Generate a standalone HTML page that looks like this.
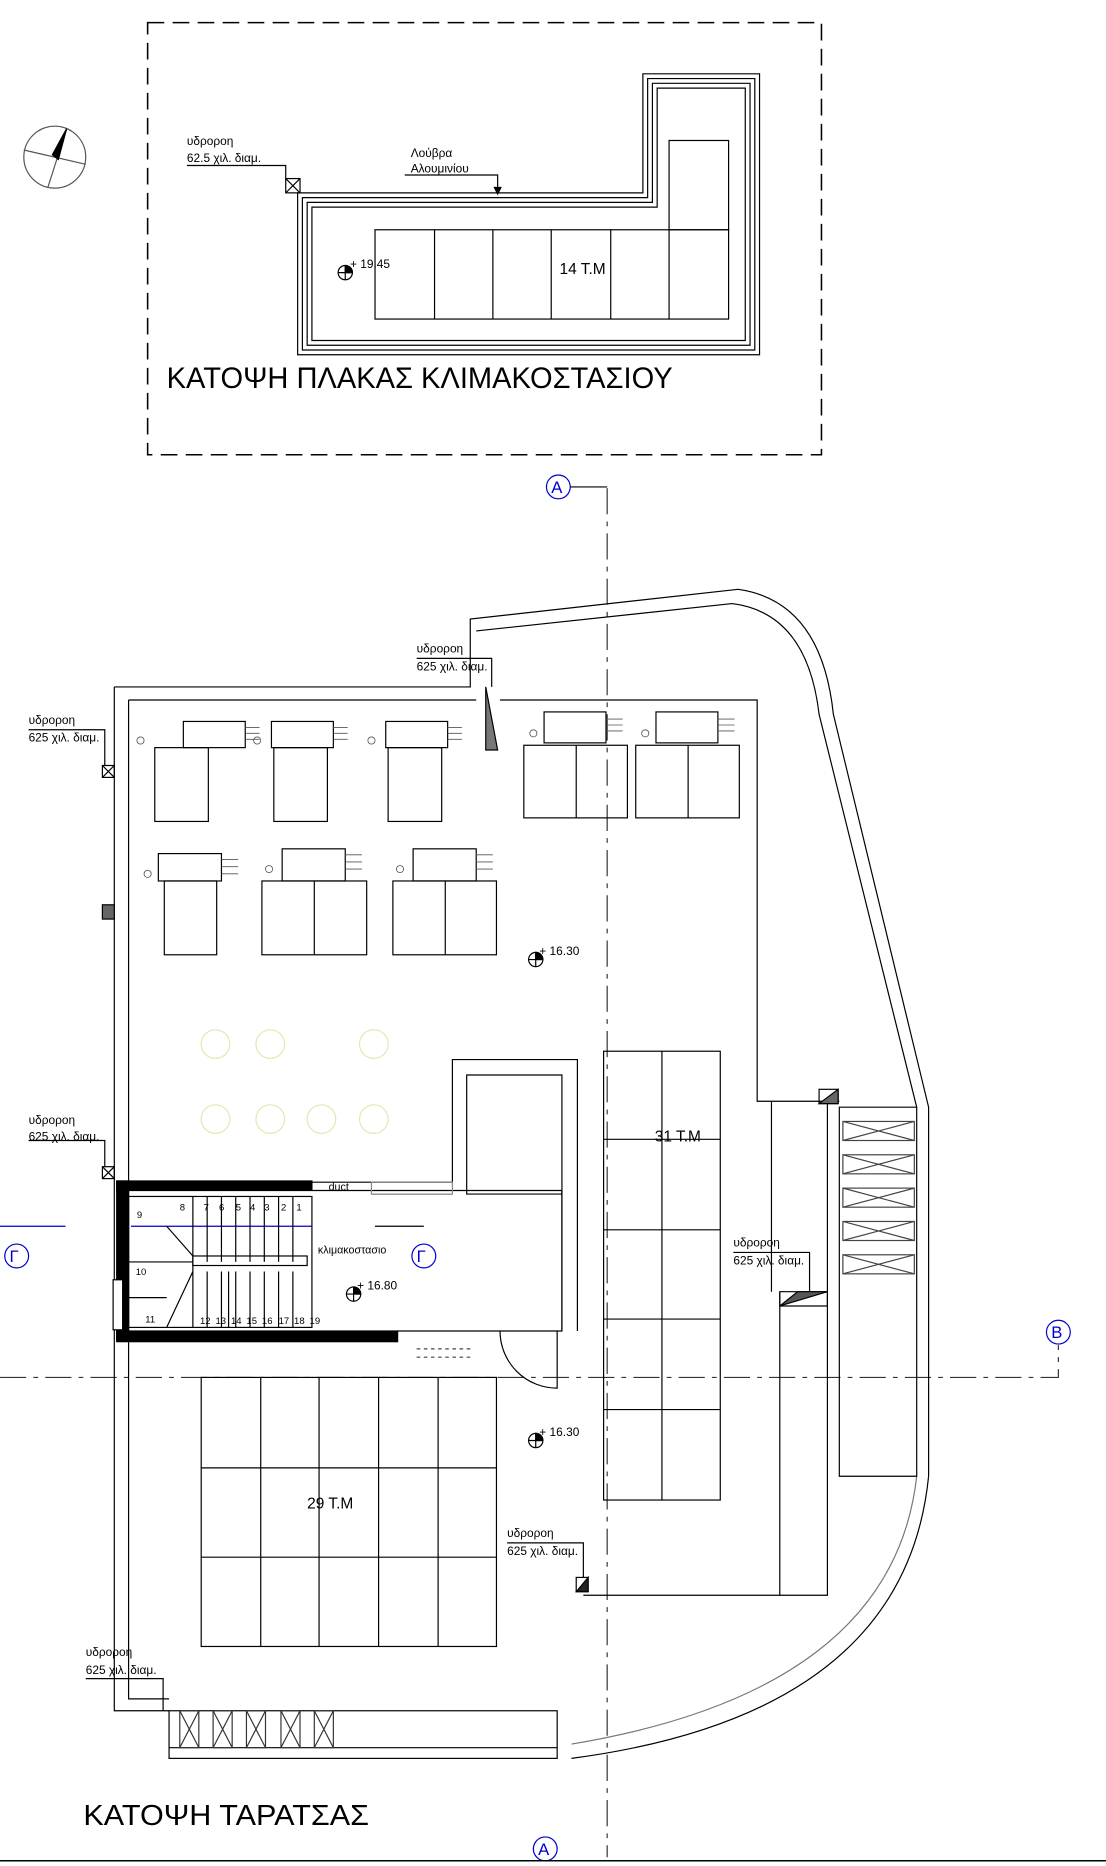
<!DOCTYPE html>
<html><head><meta charset="utf-8"><style>
html,body{margin:0;padding:0;background:#fff}
svg{display:block}
text{font-family:"Liberation Sans",sans-serif;fill:#000}
</style></head><body>
<svg width="1106" height="1866" viewBox="0 0 929 1567.4" xmlns="http://www.w3.org/2000/svg">
<g fill="none" stroke="#000" stroke-width="1">
<rect x="124" y="19" width="566" height="363" stroke-dasharray="14,7" stroke-width="1.3"/>
<circle cx="46" cy="132" r="26" stroke="#555"/>
<path d="M56,108 L40,158 M20,126 L72,138" stroke="#555"/>
<path d="M56,108 L49,134 L44,130 Z" fill="#000"/>
<path d="M250,162 H540 V62 H638 V298 H250 Z"/>
<path d="M254,166 H544 V66 H634 V294 H254 Z"/>
<path d="M258,170 H548 V70 H630 V290 H258 Z"/>
<path d="M262,174 H552 V74 H626 V286 H262 Z"/>
<rect x="315" y="193" width="297" height="75"/>
<path d="M365,193V268M414,193V268M463,193V268M513,193V268M562,193V268"/>
<rect x="562" y="118" width="50" height="75"/>
<rect x="240" y="150" width="12" height="12"/><path d="M240,150l12,12M252,150l-12,12"/>
<path d="M157,139H240V150"/>
<path d="M340,147H418V163"/><path d="M415,157l3,6l3,-6" fill="#000"/>
<circle cx="290" cy="229" r="6"/><path d="M290,223v12M284,229h12"/>
<path d="M510,410V1560" stroke-dasharray="22,6,4,6" stroke="#333"/>
<path d="M479,409H510"/>
<path d="M0,1157H889V1130" stroke-dasharray="22,6,4,6" stroke="#333"/>
<path d="M24,1030H55M0,1030H24" stroke="#00c"/>
<path d="M315,1030H356" stroke="#000"/>
<path d="M110,1030H262" stroke="#00c"/>
<path d="M96,577H395V520L620,495Q690,505 700,600L780,930V1240"/>
<path d="M96,577V1437H142"/>
<path d="M108,588H400M420,588H636V925H705"/>
<path d="M108,588V1427H142"/>
<path d="M400,530L615,507Q678,515 688,600L770,930"/>
<path d="M780,1240Q760,1440 480,1477"/>
<path d="M770,1240Q750,1420 480,1465" stroke="#777"/>
<path d="M705,930H770V1240H705Z"/>
<path d="M695,925V1340H655M648,925V1085"/>
<path d="M655,1085V1340H490"/>
<g stroke="#444">
<rect x="708" y="942" width="60" height="16"/><path d="M708,942l60,16M768,942l-60,16"/>
<rect x="708" y="970" width="60" height="16"/><path d="M708,970l60,16M768,970l-60,16"/>
<rect x="708" y="998" width="60" height="16"/><path d="M708,998l60,16M768,998l-60,16"/>
<rect x="708" y="1026" width="60" height="16"/><path d="M708,1026l60,16M768,1026l-60,16"/>
<rect x="708" y="1054" width="60" height="16"/><path d="M708,1054l60,16M768,1054l-60,16"/>
</g>
<rect x="688" y="915" width="16" height="12"/><path d="M688,927h16v-12z" fill="#666"/>
<path d="M655,1085H695V1097H655Z"/><path d="M655,1097l40,-12V1085H670Z" fill="#555"/>
<path d="M408,577L418,630H408Z" fill="#777"/>
<rect x="86" y="760" width="10" height="12" fill="#666"/>
<rect x="86" y="643" width="10" height="10"/><path d="M86,643l10,10M96,643l-10,10"/>
<rect x="86" y="980" width="10" height="10"/><path d="M86,980l10,10M96,980l-10,10"/>
<rect x="484" y="1325" width="10" height="12"/><path d="M484,1337l10,-12V1337Z" fill="#222"/>
<path d="M24,613H88V643"/><path d="M24,958H88V980"/>
<path d="M350,553H413V577"/><path d="M616,1052H680V1085"/>
<path d="M426,1296H490V1325"/><path d="M72,1410H137V1437"/>
<rect x="98" y="992" width="164" height="8" fill="#000"/>
<rect x="98" y="992" width="10" height="133" fill="#000"/>
<rect x="98" y="1118" width="236" height="9" fill="#000"/>
<rect x="95" y="1075" width="8" height="42" fill="#fff"/>
<rect x="108" y="1005" width="154" height="110"/>
<path d="M162,1005V1115M174,1005V1060M186,1005V1060M198,1005V1060M210,1005V1060M222,1005V1060M234,1005V1060M246,1005V1060M174,1068V1115M186,1068V1115M198,1068V1115M210,1068V1115M222,1068V1115M234,1068V1115M246,1068V1115M108,1060H162M108,1090H140M140,1030L162,1055M140,1115L162,1068M192,1068V1115"/>
<rect x="162" y="1055" width="96" height="8"/>
<path d="M262,1000H472V1118H334"/>
<path d="M262,993H380V890H485V1118M472,1118V1000M380,1003H312"/>
<path d="M392,903H472V1003H392Z"/>
<path d="M312,993H380V1003H312Z" stroke="#888"/>
<path d="M420,1118A48,48 0 0 0 468,1166V1118"/>
<path d="M350,1133h45M350,1140h45" stroke="#444" stroke-dasharray="3,3"/>
<rect x="507" y="883" width="98" height="377"/>
<path d="M556,883V1260M507,957H605M507,1033H605M507,1108H605M507,1184H605"/>
<rect x="169" y="1157" width="248" height="226"/>
<path d="M219,1157V1383M268,1157V1383M318,1157V1383M368,1157V1383M169,1233H417M169,1308H417"/>
<rect x="142" y="1437" width="326" height="40"/>
<path d="M142,1468H468"/>
<g stroke="#333">
<rect x="151" y="1437" width="16" height="31"/><path d="M151,1437l16,31M167,1437l-16,31"/>
<rect x="179" y="1437" width="16" height="31"/><path d="M179,1437l16,31M195,1437l-16,31"/>
<rect x="207" y="1437" width="16" height="31"/><path d="M207,1437l16,31M223,1437l-16,31"/>
<rect x="236" y="1437" width="16" height="31"/><path d="M236,1437l16,31M252,1437l-16,31"/>
<rect x="264" y="1437" width="16" height="31"/><path d="M264,1437l16,31M280,1437l-16,31"/>
</g>
<g>
<rect x="154" y="606" width="52" height="22"/><rect x="130" y="628" width="45" height="62"/>
<rect x="228" y="606" width="52" height="22"/><rect x="230" y="628" width="45" height="62"/>
<rect x="324" y="606" width="52" height="22"/><rect x="326" y="628" width="45" height="62"/>
<rect x="457" y="598" width="52" height="26"/><rect x="440" y="626" width="87" height="61"/><path d="M484,626V687"/>
<rect x="551" y="598" width="52" height="26"/><rect x="534" y="626" width="87" height="61"/><path d="M578,626V687"/>
<rect x="133" y="717" width="53" height="23"/><rect x="138" y="740" width="44" height="62"/>
<rect x="237" y="713" width="53" height="27"/><rect x="220" y="740" width="88" height="62"/><path d="M264,740V802"/>
<rect x="347" y="713" width="53" height="27"/><rect x="330" y="740" width="87" height="62"/><path d="M374,740V802"/>
</g>
<g stroke="#555" stroke-width="0.7">
<path d="M206,611h12M206,616h12M206,621h12M280,611h12M280,616h12M280,621h12M376,611h12M376,616h12M376,621h12M509,604h14M509,609h14M509,614h14M603,604h14M603,609h14M603,614h14M186,722h14M186,728h14M186,734h14M290,718h14M290,724h14M290,730h14M400,718h14M400,724h14M400,730h14"/>
<circle cx="118" cy="622" r="3"/><circle cx="216" cy="622" r="3"/><circle cx="312" cy="622" r="3"/><circle cx="448" cy="616" r="3"/><circle cx="542" cy="616" r="3"/><circle cx="124" cy="734" r="3"/><circle cx="226" cy="730" r="3"/><circle cx="336" cy="730" r="3"/>
</g>
<g stroke="#e6e6b0">
<circle cx="181" cy="877" r="12"/><circle cx="227" cy="877" r="12"/><circle cx="314" cy="877" r="12"/>
<circle cx="181" cy="940" r="12"/><circle cx="227" cy="940" r="12"/><circle cx="270" cy="940" r="12"/><circle cx="314" cy="940" r="12"/>
</g>
<g>
<circle cx="450" cy="806" r="6"/><path d="M450,800v12M444,806h12"/><path d="M450,806V800A6,6 0 0 1 456,806Z" fill="#000"/>
<circle cx="297" cy="1087" r="6"/><path d="M297,1081v12M291,1087h12"/><path d="M297,1087V1081A6,6 0 0 1 303,1087Z" fill="#000"/>
<circle cx="450" cy="1210" r="6"/><path d="M450,1204v12M444,1210h12"/><path d="M450,1210V1204A6,6 0 0 1 456,1210Z" fill="#000"/>
<path d="M290,229V223A6,6 0 0 1 296,229Z" fill="#000"/>
</g>
<g stroke="#00c">
<circle cx="469" cy="409" r="10"/><circle cx="458" cy="1553" r="10"/><circle cx="889" cy="1119" r="10"/>
<circle cx="14" cy="1055" r="10"/><circle cx="356" cy="1055" r="10"/>
</g>
<path d="M0,1563H929" stroke-width="1.3"/>
</g>
<g font-size="10">
<text x="157" y="122">υδροροη</text><text x="157" y="136">62.5 χιλ. διαμ.</text>
<text x="345" y="132">Λούβρα</text><text x="345" y="145">Αλουμινίου</text>
<text x="294" y="225">+ 19.45</text>
<text x="470" y="230" font-size="13">14 T.M</text>
<text x="140" y="326" font-size="25" textLength="425" lengthAdjust="spacingAndGlyphs">ΚΑΤΟΨΗ  ΠΛΑΚΑΣ ΚΛΙΜΑΚΟΣΤΑΣΙΟΥ</text>
<text x="350" y="548">υδροροη</text><text x="350" y="563">625 χιλ. διαμ.</text>
<text x="24" y="608">υδροροη</text><text x="24" y="623">625 χιλ. διαμ.</text>
<text x="24" y="944">υδροροη</text><text x="24" y="958">625 χιλ. διαμ.</text>
<text x="616" y="1047">υδροροη</text><text x="616" y="1062">625 χιλ. διαμ.</text>
<text x="426" y="1291">υδροροη</text><text x="426" y="1306">625 χιλ. διαμ.</text>
<text x="72" y="1391">υδροροη</text><text x="72" y="1406">625 χιλ. διαμ.</text>
<text x="453" y="802">+ 16.30</text>
<text x="300" y="1083">+ 16.80</text>
<text x="453" y="1206">+ 16.30</text>
<text x="267" y="1053" font-size="9">κλιμακοστασιο</text>
<text x="276" y="1000" font-size="9">duct</text>
<text x="550" y="959" font-size="13">31 T.M</text>
<text x="258" y="1267" font-size="13">29 T.M</text>
<text x="70" y="1533" font-size="24" textLength="240" lengthAdjust="spacingAndGlyphs">ΚΑΤΟΨΗ   ΤΑΡΑΤΣΑΣ</text>
<g font-size="8"><text x="115" y="1023">9</text><text x="151" y="1017">8</text><text x="171" y="1017">7</text><text x="184" y="1017">6</text><text x="198" y="1017">5</text><text x="210" y="1017">4</text><text x="222" y="1017">3</text><text x="236" y="1017">2</text><text x="249" y="1017">1</text><text x="114" y="1071">10</text><text x="122" y="1111">11</text><text x="168" y="1112">12</text><text x="181" y="1112">13</text><text x="194" y="1112">14</text><text x="207" y="1112">15</text><text x="220" y="1112">16</text><text x="234" y="1112">17</text><text x="247" y="1112">18</text><text x="260" y="1112">19</text></g>
<g font-family="Liberation Serif" font-size="14"><text x="463" y="414" style="fill:#00c">A</text><text x="452" y="1558" style="fill:#00c">A</text><text x="883" y="1124" style="fill:#00c">B</text><text x="8" y="1060" style="fill:#00c">Γ</text><text x="350" y="1060" style="fill:#00c">Γ</text></g>
</g>
</svg>
</body></html>
